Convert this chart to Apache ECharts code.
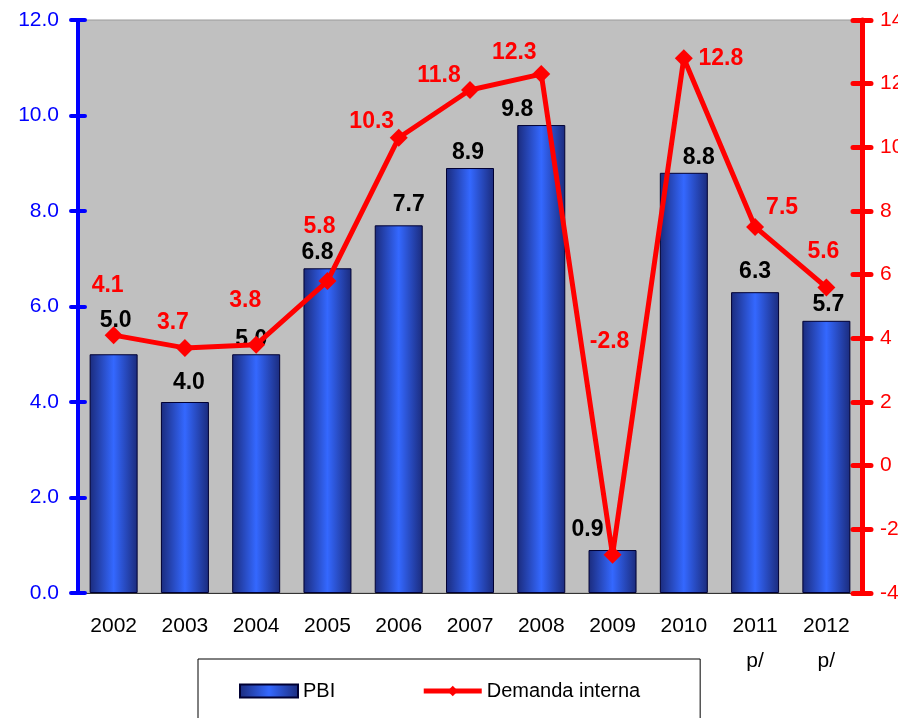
<!DOCTYPE html>
<html>
<head>
<meta charset="utf-8">
<script src="https://cdn.jsdelivr.net/npm/echarts@6/dist/echarts.min.js"></script>
<style>
  html, body { margin: 0; padding: 0; background: #ffffff; }
  #chart { width: 898px; height: 718px; }
</style>
</head>
<body>
<div id="chart"></div>
<script>
// years, "p/" = preliminar
var years = ['2002', '2003', '2004', '2005', '2006', '2007', '2008', '2009', '2010', '2011\np/', '2012\np/'];
var pbi = [5.0, 4.0, 5.0, 6.8, 7.7, 8.9, 9.8, 0.9, 8.8, 6.3, 5.7];
var demanda = [4.1, 3.7, 3.8, 5.8, 10.3, 11.8, 12.3, -2.8, 12.8, 7.5, 5.6];

// label nudges so they don't sit on top of each other (like the excel original)
var pbiLabelShift = [[2, -17], [4, -3], [-5, 2], [-10, 1], [10, -4], [-2, 1], [-24, 1], [-25, -4], [15, 1], [0, -4], [2, 0]];
var demLabelShift = [[-6, -49], [-12, -25], [-11, -44], [-8, -54], [-27, -16], [-31, -14], [-27, -21], [-3, -213], [37, 0], [27, -19], [-3, -36]];

var FONT = '"Liberation Sans", Arial, sans-serif';

function buildPbiData() {
    return pbi.map(function (v, i) {
        return { value: v, label: { offset: pbiLabelShift[i] } };
    });
}

function buildDemData() {
    return demanda.map(function (v, i) {
        return { value: v, label: { offset: demLabelShift[i] } };
    });
}

function tickAxis(pos, min, max, color, w, len, inside, withLabel) {
    return {
        type: 'value',
        position: pos,
        min: min,
        max: max,
        interval: 2,
        axisLine: { show: withLabel, lineStyle: { color: color, width: w } },
        axisTick: { show: true, inside: inside, length: len, lineStyle: { color: color, width: w, cap: 'round' } },
        splitLine: { show: false },
        axisLabel: {
            show: withLabel,
            color: color,
            fontSize: 21,
            fontFamily: FONT,
            margin: pos === 'left' ? 19 : 18,
            formatter: function (v) {
                return pos === 'left' ? v.toFixed(1) : String(v);
            }
        }
    };
}

var chart = echarts.init(document.getElementById('chart'));

var barColor = new echarts.graphic.LinearGradient(0, 0, 1, 0, [
    { offset: 0, color: '#1b2b7c' },
    { offset: 0.5, color: '#3468ff' },
    { offset: 1, color: '#1b2b7c' }
]);

var option = {
    backgroundColor: '#ffffff',
    animation: false,
    grid: {
        left: 78,
        right: 36,
        top: 20,
        bottom: 125,
        containLabel: false,
        outerBoundsMode: 'none',
        show: true,
        backgroundColor: '#c0c0c0',
        borderColor: '#9a9a9a',
        borderWidth: 1
    },
    legend: {
        left: 198,
        top: 659,
        padding: [22, 60, 40, 41],
        itemGap: 86,
        itemWidth: 58,
        itemHeight: 13,
        borderColor: '#000000',
        borderWidth: 1,
        backgroundColor: '#ffffff',
        textStyle: { color: '#000000', fontSize: 20, fontFamily: FONT },
        data: [
            { name: 'PBI', icon: 'rect' },
            { name: 'Demanda interna', lineStyle: { width: 5 } }
        ]
    },
    xAxis: {
        type: 'category',
        data: years,
        axisLine: { lineStyle: { color: '#333333', width: 1 } },
        axisTick: { show: false },
        axisLabel: {
            color: '#000000',
            fontSize: 21,
            fontFamily: FONT,
            lineHeight: 35,
            margin: 16,
            interval: 0
        }
    },
    yAxis: [
        tickAxis('left', 0, 12, '#0000ff', 4, 7, false, true),
        tickAxis('right', -4, 14, '#ff0000', 5, 9, false, true),
        tickAxis('left', 0, 12, '#0000ff', 4, 7, true, false),
        tickAxis('right', -4, 14, '#ff0000', 5, 9, true, false)
    ],
    series: [
        {
            name: 'PBI',
            type: 'bar',
            yAxisIndex: 0,
            barWidth: 48,
            data: buildPbiData(),
            itemStyle: {
                color: barColor,
                borderColor: '#000033',
                borderWidth: 1
            },
            label: {
                show: true,
                position: 'top',
                distance: 5,
                color: '#000000',
                fontSize: 23,
                fontWeight: 'bold',
                fontFamily: FONT,
                formatter: function (p) { return p.value.toFixed(1); }
            },
            z: 2
        },
        {
            name: 'Demanda interna',
            type: 'line',
            yAxisIndex: 1,
            data: buildDemData(),
            symbol: 'diamond',
            symbolSize: 18,
            lineStyle: { color: '#ff0000', width: 5 },
            itemStyle: { color: '#ff0000' },
            label: {
                show: true,
                position: 'inside',
                color: '#ff0000',
                fontSize: 23,
                fontWeight: 'bold',
                fontFamily: FONT,
                formatter: function (p) { return p.value.toFixed(1); }
            },
            z: 5
        }
    ]
};

chart.setOption(option, true);
</script>
</body>
</html>
